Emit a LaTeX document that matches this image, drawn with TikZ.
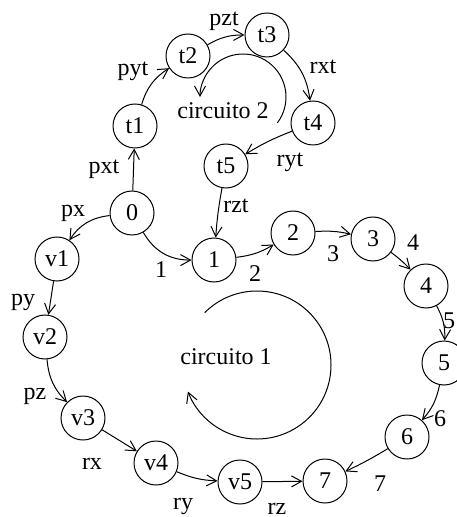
\documentclass[tikz,border=0pt]{standalone}
\usepackage{fontspec}
\setmainfont{Liberation Serif}
\usetikzlibrary{arrows.meta}
\begin{document}
\begin{tikzpicture}[x=0.5pt,y=-0.5pt,
  state/.style={circle,draw,line width=0.5pt,minimum size=22pt,inner sep=0pt,font=\fontsize{12}{14}\selectfont},
  lbl/.style={inner sep=0pt,font=\fontsize{12}{14}\selectfont},
  edge/.style={line width=0.5pt,-{Straight Barb[length=5pt,width=5.5pt]}},
  every path/.style={line width=0.5pt}]
\useasboundingbox (0,0) rectangle (456,517);
% nodes
\node[state] (n0) at (132,213) {0};
\node[state] (t1) at (135,126) {t1};
\node[state] (t2) at (188,56) {t2};
\node[state] (t3) at (267,35) {t3};
\node[state] (t4) at (313,123) {t4};
\node[state] (t5) at (226,166) {t5};
\node[state] (n1) at (214,260) {1};
\node[state] (n2) at (293,233) {2};
\node[state] (n3) at (373,239) {3};
\node[state] (n4) at (426,286) {4};
\node[state] (n5) at (444,363) {5};
\node[state] (n6) at (407,437) {6};
\node[state] (n7) at (325,481) {7};
\node[state] (v1) at (57,259) {v1};
\node[state] (v2) at (45,337) {v2};
\node[state] (v3) at (83,418) {v3};
\node[state] (v4) at (156,463) {v4};
\node[state] (v5) at (240,482) {v5};
% edges
\draw[edge] (n0) -- (t1);
\draw[edge] (t1) to[bend left=20] (t2);
\draw[edge] (t2) to[bend left=15] (t3);
\draw[edge] (t3) to[bend left=20] (t4);
\draw[edge] (t4) to[bend right=5] (t5);
\draw[edge] (t5) to[bend right=3] (n1);
\draw[edge] (n0) to[bend right=30] (n1);
\draw[edge] (n0) to[bend right=25] (v1);
\draw[edge] (n1) to[bend right=12] (n2);
\draw[edge] (n2) to[bend left=8] (n3);
\draw[edge] (n3) to[bend left=5] (n4);
\draw[edge] (n4) to[bend left=15] (n5);
\draw[edge] (n5) to[bend left=15] (n6);
\draw[edge] (n6) to[bend left=3] (n7);
\draw[edge] (v5) -- (n7);
\draw[edge] (v4) to[bend right=10] (v5);
\draw[edge] (v3) -- (v4);
\draw[edge] (v2) to[bend right=20] (v3);
\draw[edge] (v1) -- (v2);
% labels
\node[lbl] (lpxt) at (104,169) {pxt};
\node[lbl] (lpyt) at (133,71) {pyt};
\node[lbl] (lpzt) at (224,21) {pzt};
\node[lbl] (lrxt) at (323,67) {rxt};
\node[lbl] (lryt) at (290,162) {ryt};
\node[lbl] (lrzt) at (236,206) {rzt};
\node[lbl] (lpx) at (73,213) {px};
\node[lbl] (lpy) at (23,302) {py};
\node[lbl] (lpz) at (35,396) {pz};
\node[lbl] (lrx) at (92,464) {rx};
\node[lbl] (lry) at (183,506) {ry};
\node[lbl] (lrz) at (277,509) {rz};
\node[lbl] (l1) at (161,270) {1};
\node[lbl] (l2) at (255,274) {2};
\node[lbl] (l3) at (333,254) {3};
\node[lbl] (l4) at (413,243) {4};
\node[lbl] (l5) at (449,321) {5};
\node[lbl] (l6) at (440,419) {6};
\node[lbl] (l7) at (380,484) {7};
\node[lbl] (c1) at (226,357) {circuito 1};
\node[lbl] (c2) at (223,111) {circuito 2};
% circuit arcs
\coordinate (cc1) at (257,365);
\coordinate (cc2) at (243,97);
\draw[edge] ([shift={(-135:74)}]cc1) arc[start angle=-135,end angle=159,radius=74];
\draw[edge] ([shift={(37:43)}]cc2) arc[start angle=37,end angle=-180,radius=43];
\end{tikzpicture}
\end{document}
